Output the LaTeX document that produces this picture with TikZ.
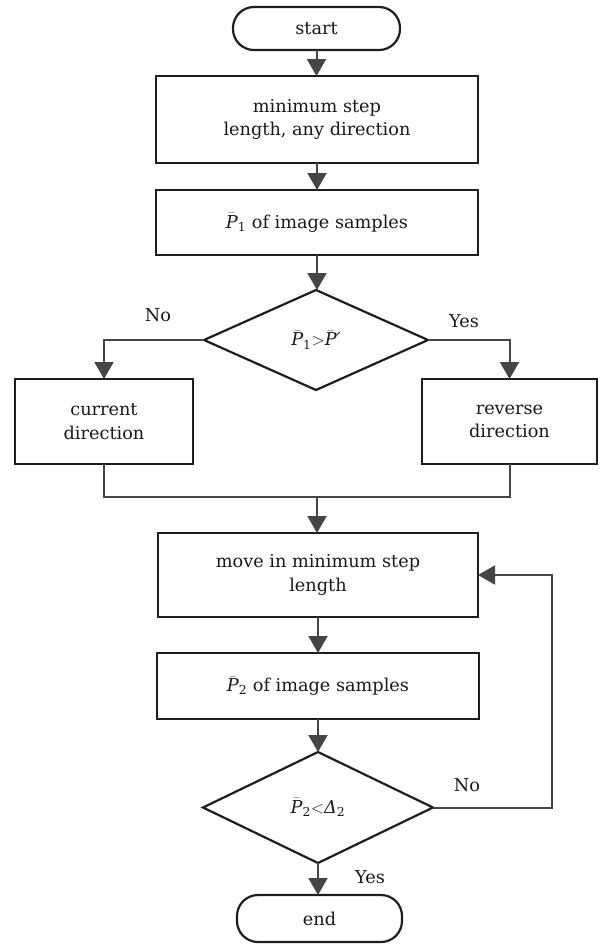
\documentclass[tikz,border=0pt]{standalone}
\usepackage{amsmath}
\usepackage{fontspec}
\setmainfont{DejaVu Serif}
\usetikzlibrary{shapes.geometric,arrows.meta}
\definecolor{linegray}{HTML}{454545}
\definecolor{boxline}{HTML}{1E1E1E}
\newcommand\myPbar{\bar{\text{\itshape P}}}
\begin{document}
\begin{tikzpicture}[x=1pt,y=-1pt,
  every node/.style={font=\fontsize{17.7}{23.5}\selectfont, inner sep=0pt, outer sep=0pt, text=black!90},
  proc/.style={draw=boxline, line width=2.4pt, rectangle, align=center},
  term/.style={draw=boxline, line width=2.2pt, rectangle, rounded corners=21pt},
  dec/.style={draw=boxline, line width=2.2pt, diamond},
  conn/.style={draw=linegray, line width=2pt},
  arr/.style={conn, -{Triangle[width=19pt,length=17pt]}, color=linegray},
  lbl/.style={font=\fontsize{17.7}{23.5}\selectfont}
]
\useasboundingbox (0,0) rectangle (605,945);

\node[term, minimum width=167pt, minimum height=43pt] (start) at (316.5,28.5) {start};
\node[proc, minimum width=322pt, minimum height=87pt] (b1) at (317,119.5) {minimum step\\length, any direction};
\node[proc, minimum width=322pt, minimum height=65pt] (b2) at (317,222.5) {$\myPbar_{\text{1}}$ of image samples};
\node[dec, minimum width=224pt, minimum height=100pt] (d1) at (316,340) {$\myPbar_{\text{1}}{>}\myPbar\text{\itshape ′}$};
\node[proc, minimum width=178pt, minimum height=85pt] (cur) at (104,421.5) {current\\direction};
\node[proc, minimum width=175pt, minimum height=85pt] (rev) at (509.5,421.5) {reverse\\direction};
\coordinate (join) at (317,497);
\node[proc, minimum width=320pt, minimum height=84pt] (mv) at (318,575) {move in minimum step\\length};
\node[proc, minimum width=322pt, minimum height=66pt] (b3) at (318,686) {$\myPbar_{\text{2}}$ of image samples};
\node[dec, minimum width=230pt, minimum height=111pt] (d2) at (318,807.5) {$\myPbar_{\text{2}}{<}\text{\itshape Δ}_{\text{2}}$};
\node[term, minimum width=165pt, minimum height=47pt] (end) at (319.5,918.5) {end};

\node[lbl] (no1) at (158,315) {No};
\node[lbl] (yes1) at (464,321) {Yes};
\node[lbl] (no2) at (467,785) {No};
\node[lbl] (yes2) at (370,877) {Yes};

\draw[arr] (start.south) -- (start.south |- b1.north);
\draw[arr] (b1.south) -- (b2.north);
\draw[arr] (b2.south) -- (b2.south |- d1.north);
\draw[arr] (d1.west) -| (cur.north);
\draw[arr] (d1.east) -| (rev.north);
\draw[conn] (cur.south) |- (join) -| (rev.south);
\draw[arr] (join) -- (join |- mv.north);
\draw[arr] (mv.south) -- (b3.north);
\draw[arr] (b3.south) -- (d2.north);
\draw[arr] (d2.south) -- (d2.south |- end.north);
\draw[arr] (d2.east) -| ([xshift=74pt]mv.east) -- (mv.east);
\end{tikzpicture}
\end{document}
